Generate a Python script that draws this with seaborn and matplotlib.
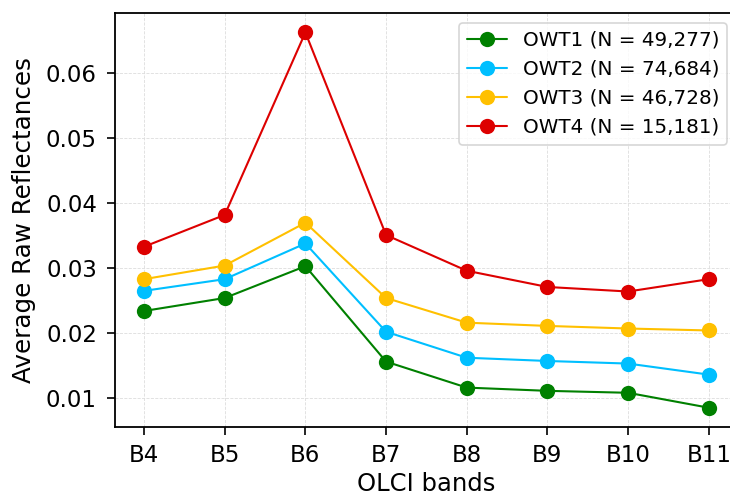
import pandas as pd
import matplotlib.pyplot as plt
import seaborn as sns

bands = ['B4', 'B5', 'B6', 'B7', 'B8', 'B9', 'B10', 'B11']
owt1 = [0.0234, 0.0254, 0.0303, 0.0156, 0.0116, 0.0111, 0.0108, 0.0085]
owt2 = [0.0265, 0.0283, 0.0338, 0.0202, 0.0162, 0.0157, 0.0153, 0.0136]
owt3 = [0.0283, 0.0304, 0.0370, 0.0254, 0.0216, 0.0211, 0.0207, 0.0204]
owt4 = [0.0333, 0.0382, 0.0663, 0.0351, 0.0296, 0.0271, 0.0264, 0.0283]
labels = ['OWT1 (N = 49,277)', 'OWT2 (N = 74,684)',
          'OWT3 (N = 46,728)', 'OWT4 (N = 15,181)']
colors = ['#008000', '#00BFFF', '#FFC000', '#DD0000']

# long-form table for seaborn
rows = []
for lab, vals in zip(labels, [owt1, owt2, owt3, owt4]):
    for b, v in zip(bands, vals):
        rows.append({'band': b, 'value': v, 'type': lab})
df = pd.DataFrame(rows)

sns.set_theme(style='ticks', rc={
    'axes.edgecolor': 'black',
    'axes.linewidth': 1.3,
    'text.color': 'black',
    'axes.labelcolor': 'black',
    'xtick.color': 'black',
    'ytick.color': 'black',
    'xtick.major.size': 6,
    'ytick.major.size': 6,
    'xtick.major.width': 1.2,
    'ytick.major.width': 1.2,
    'xtick.major.pad': 6,
    'ytick.major.pad': 7,
    'grid.color': '#dddddd',
    'grid.linestyle': '--',
    'grid.linewidth': 0.6,
})
plt.rcParams['font.family'] = ['DejaVu Sans']

fig = plt.figure(figsize=(7.3, 4.95), dpi=100)
ax = fig.add_axes([115 / 730, 1 - 427 / 495, (737 - 115) / 730, (427 - 13) / 495])

sns.lineplot(data=df, x='band', y='value', hue='type', palette=colors,
             marker='o', markersize=11, markeredgewidth=0, linewidth=1.5,
             sort=False, ax=ax)

ax.set_xlim(-0.36, 7.35)
ax.set_ylim(0.00553, 0.0693)
ax.set_yticks([0.01, 0.02, 0.03, 0.04, 0.05, 0.06])
ax.grid(True)
ax.tick_params(labelsize=16.5)
ax.set_xlabel('OLCI bands', fontsize=17.5, labelpad=4)
ax.set_ylabel('Average Raw Reflectances', fontsize=17.7, labelpad=7)

leg = ax.legend(loc='upper right', fontsize=14.3, frameon=True)
leg.get_frame().set_edgecolor('#cccccc')
leg.get_frame().set_linewidth(1.2)
for line in leg.get_lines():
    line.set_markersize(11)

fig.savefig('out.png', dpi=100)
